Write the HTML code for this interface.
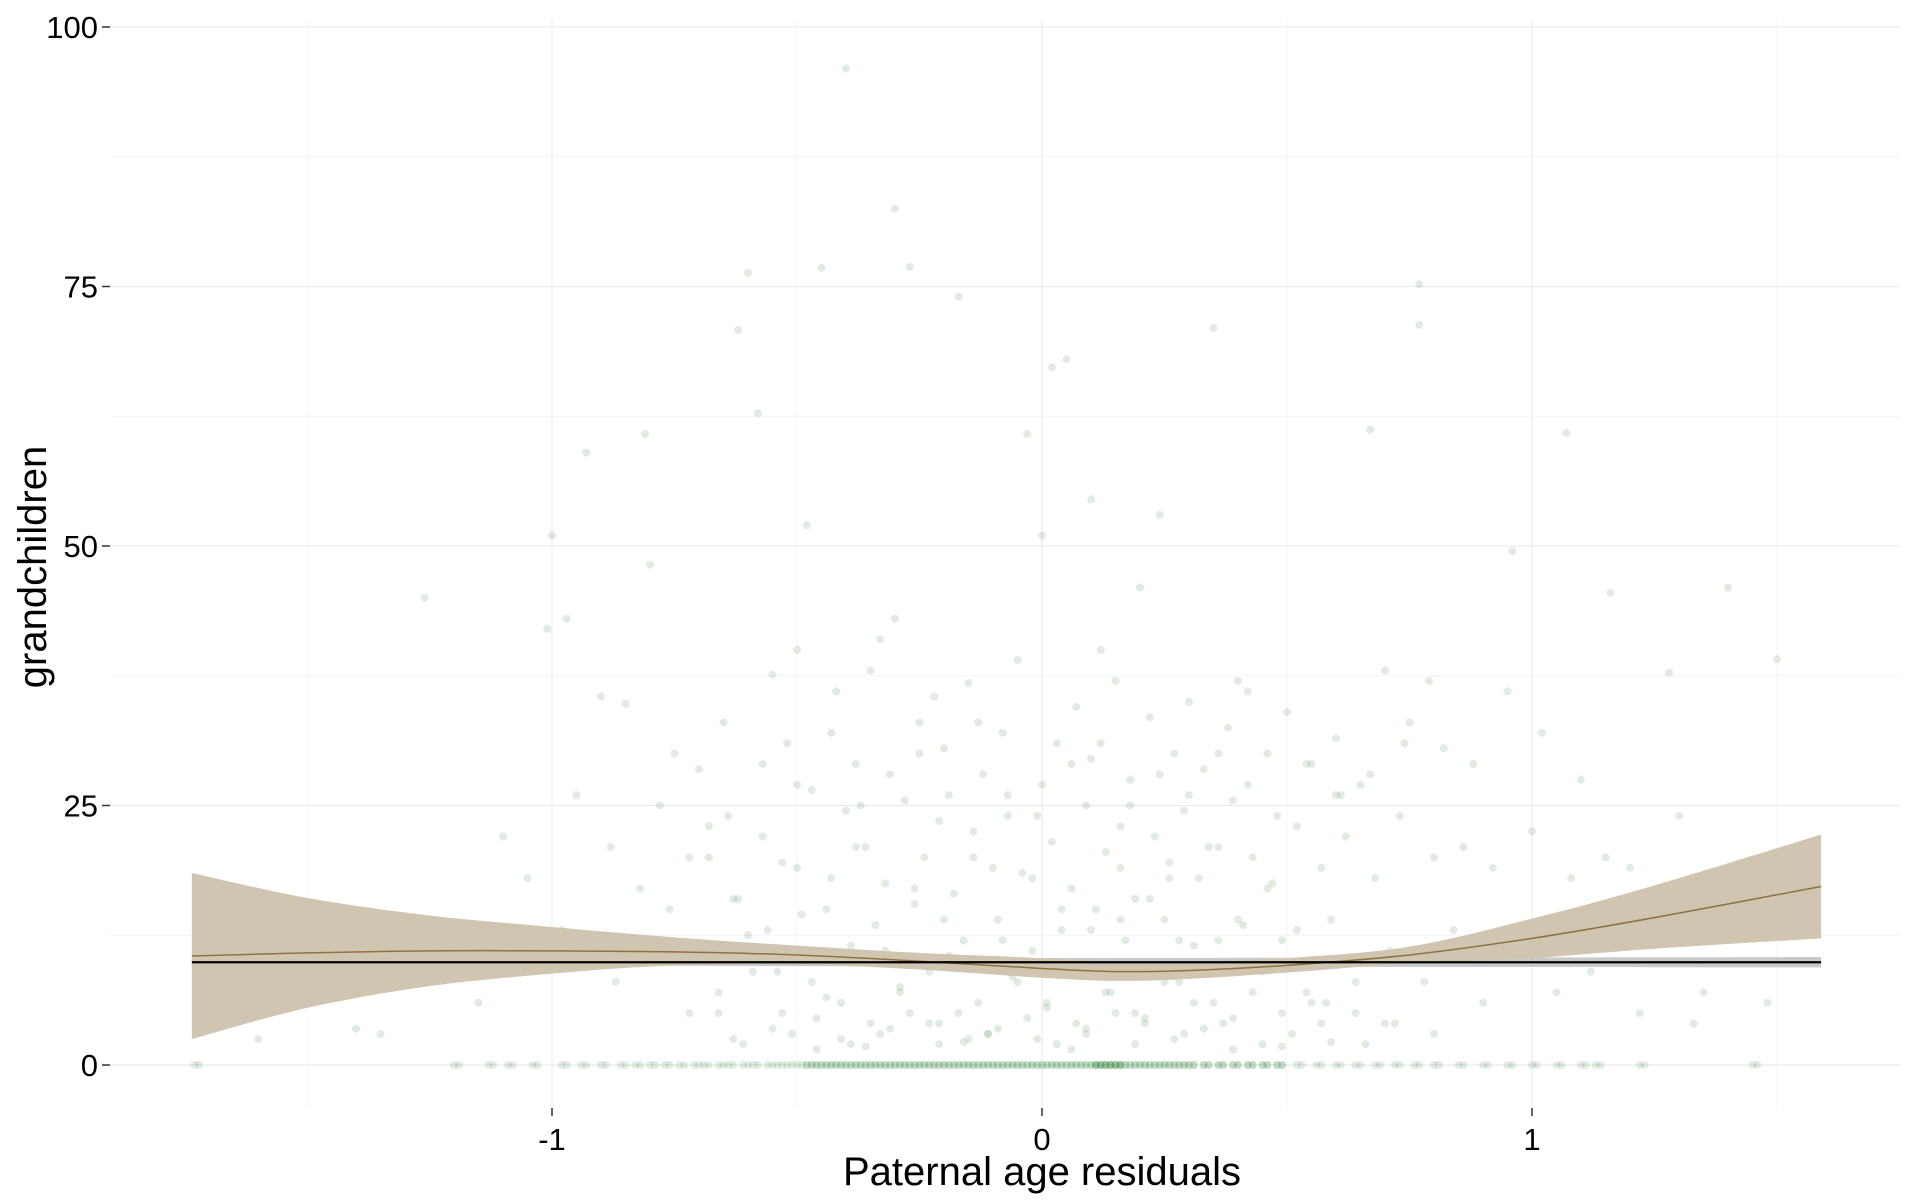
<!DOCTYPE html>
<html><head><meta charset="utf-8">
<style>
html,body{margin:0;padding:0;background:#fff;}
svg{display:block;font-family:"Liberation Sans",sans-serif;}
</style></head>
<body>
<svg id="chart" width="1920" height="1200" viewBox="0 0 1920 1200" xmlns="http://www.w3.org/2000/svg">
<g id="grid"></g>
<g id="points"></g>
<g id="band"></g>
<g id="axes"></g>
<text x="1042" y="1185" font-size="40" text-anchor="middle">Paternal age residuals</text>
<text transform="translate(46,567) rotate(-90)" font-size="40" text-anchor="middle">grandchildren</text>
</svg>
<script>
const xTicks=[-1,0,1];
const xTickLabels=["-1","0","1"];
const yTicks=[0,25,50,75,100];
const yTickLabels=["0","25","50","75","100"];
// scattered points (x residual, grandchildren)
const ptX=[-0.4,-0.3,-0.6,-0.45,-0.27,-0.17,0.77,-0.62,0.77,0.35,0.05,0.02,-0.58,0.67,1.07,-0.81,-0.93,-0.03,-1.0,-0.48,0.0,0.1,0.24,-0.8,-1.01,-1.26,-0.97,0.2,0.96,1.4,1.16,1.5,1.28,0.79,-0.5,-0.3,0.12,0.4,
-0.9,-0.85,-0.75,-0.7,-0.65,-0.55,-0.52,-0.42,-0.38,-0.35,-0.33,-0.25,-0.22,-0.2,-0.15,-0.12,-0.08,-0.05,0.03,0.07,0.1,0.15,0.18,0.22,0.27,0.3,0.33,0.38,0.42,0.46,0.5,0.55,0.6,0.65,0.7,0.75,0.82,0.88,0.95,1.02,1.1,1.2,1.3,
-1.1,-1.05,-0.95,-0.88,-0.82,-0.78,-0.72,-0.68,-0.63,-0.57,-0.53,-0.47,-0.43,-0.4,-0.36,-0.32,-0.28,-0.24,-0.21,-0.18,-0.14,-0.1,-0.07,-0.04,-0.01,0.02,0.06,0.09,0.13,0.16,0.19,0.23,0.26,0.29,0.32,0.36,0.39,0.43,0.47,0.52,0.57,0.62,0.68,0.73,0.8,0.86,0.92,1.0,1.08,1.15,1.25,1.35,1.45,
-1.2,-1.15,-0.98,-0.87,-0.76,-0.66,-0.6,-0.54,-0.49,-0.44,-0.39,-0.34,-0.29,-0.26,-0.23,-0.19,-0.16,-0.13,-0.09,-0.06,-0.02,0.01,0.04,0.08,0.11,0.14,0.17,0.21,0.25,0.28,0.31,0.35,0.41,0.45,0.49,0.54,0.59,0.64,0.71,0.78,0.84,0.9,0.98,1.05,1.12,1.22,1.33,1.48,-1.35,-1.6,-1.4,
-0.61,-0.51,-0.41,-0.31,-0.21,-0.11,-0.01,0.09,0.19,0.29,0.39,0.49,0.59,-0.46,-0.36,-0.16,0.06,0.16,0.26,0.36,
-0.68,-0.62,-0.56,-0.5,-0.44,-0.38,-0.32,-0.26,-0.2,-0.14,-0.08,-0.02,0.04,0.1,0.16,0.22,0.28,0.34,0.4,0.46,0.52,0.58,0.64,0.7,
-0.66,-0.59,-0.53,-0.47,-0.41,-0.35,-0.29,-0.23,-0.17,-0.11,-0.05,0.01,0.07,0.13,0.19,0.25,0.31,0.37,0.43,0.49,0.55,0.61,0.67,0.74,
-0.64,-0.57,-0.5,-0.43,-0.37,-0.31,-0.25,-0.19,-0.13,-0.07,0.0,0.06,0.12,0.18,0.24,0.3,0.36,0.42,0.48,0.54,0.6,0.66,0.72,0.8,
-0.72,-0.63,-0.55,-0.46,-0.39,-0.33,-0.27,-0.21,-0.15,-0.09,-0.03,0.03,0.09,0.15,0.21,0.27,0.33,0.39,0.45,0.51,0.57,0.63,0.69,0.85],
ptY=[96,82.5,76.3,76.8,76.9,74,75.2,70.8,71.3,71,68,67.2,62.8,61.2,60.9,60.8,59,60.8,51,52,51,54.5,53,48.2,42,45,43,46,49.5,46,45.5,39.1,37.8,37,40,43,40,37,
35.5,34.8,30,28.5,33,37.6,31,36,29,38,41,33,35.5,30.5,36.8,28,32,39,31,34.5,29.5,37,27.5,33.5,30,35,28.5,32.5,36,30,34,29,31.5,27,38,33,30.5,29,36,32,27.5,
19,24,22,18,26,21,17,25,20,23,16,22,19.5,26.5,18,24.5,21,17.5,25.5,20,23.5,16.5,22.5,19,26,18.5,24,21.5,17,25,20.5,23,16,22,19.5,24.5,18,21,25.5,20,17.5,23,19,22,18,24,20,21,19,22.5,18,20,
12,7,14,11,6,13,8,15,5,12.5,9,14.5,6.5,11.5,13.5,7.5,15.5,4,10.5,12,6,14,8.5,11,5.5,13,9.5,15,7,12,4.5,14,8,11.5,6,13.5,9,12,7,14,5,11,8,13,6,12,7,9,5,4,6,
3,2.5,3.5,2,3,2.5,3.5,2,3,2.5,3.5,2,3,1.5,1.8,2.2,1.5,1.8,2.2,1.5,
14,18,12,20,16,13,19,15,21,11,17,14,20,12,18,15,13,19,16,12,21,14,17,13,
6,8,4,7,9,5,8,6,4,7,9,5,3,8,6,4,7,5,8,6,4,7,5,6,
26,28,31,24,29,27,32,25,28,30,26,33,24,27,29,31,25,28,26,30,27,24,29,26,
2,4,3,5,2.5,3.5,4.5,2,3,5,4,2.5,3.5,4.5,2,3,5,4,2.5,3.5,4.5,2,3,4];
// points on the zero line
const zeroX=[-1.73,-1.2,-1.13,-1.09,-1.04,-0.98,-0.94,-0.9,-0.86,-0.83,-0.8,-0.77,-0.74,-0.71,-0.69,-0.66,-0.64,-0.61,-0.59,-0.56,-0.54,-0.52,-0.5,-0.48,-0.46,-0.44,-0.42,-0.4,-0.38,-0.36,-0.34,-0.32,-0.3,-0.28,-0.26,-0.24,-0.22,-0.2,-0.18,-0.16,-0.14,-0.12,-0.1,-0.08,-0.06,-0.04,-0.02,0,0.02,0.04,0.06,0.08,0.1,0.11,0.12,0.13,0.14,0.15,0.16,0.18,0.2,0.22,0.24,0.26,0.28,0.3,0.33,0.36,0.39,0.42,0.45,0.48,0.52,0.56,0.6,0.64,0.68,0.72,0.76,0.8,0.85,0.9,0.95,1.0,1.05,1.1,1.13,1.22,1.45];
// smooth (loess) fit and confidence band
const smX=[-1.735,-1.5,-1.25,-1.0,-0.75,-0.5,-0.25,0.0,0.15,0.3,0.5,0.75,1.0,1.25,1.59];
const smMid=[10.5,10.8,11.0,11.0,10.9,10.6,10.0,9.3,9.0,9.1,9.6,10.6,12.2,14.2,17.2];
const smLo=[2.5,5.5,7.6,8.8,9.6,9.7,9.2,8.4,8.1,8.3,8.9,9.8,10.3,11.2,12.2];
const smHi=[18.5,16.1,14.4,13.3,12.3,11.5,10.8,10.3,9.9,9.9,10.3,11.4,14.1,17.3,22.2];
const lmX=[-1.735,1.59];
const lmMid=[9.9,9.9];
const lmLo=[9.6,9.4];
const lmHi=[10.2,10.4];

const X=v=>1042+490*v, Y=v=>1065-10.38*v;
const NS="http://www.w3.org/2000/svg";
function mk(p,t,a){const e=document.createElementNS(NS,t);for(const k in a)e.setAttribute(k,a[k]);p.appendChild(e);return e;}
const grid=document.getElementById('grid'),pts=document.getElementById('points'),band=document.getElementById('band'),axes=document.getElementById('axes');
[-1.5,-0.5,0.5,1.5].forEach(v=>{const l=mk(grid,'line',{x1:X(v),x2:X(v),y1:20,y2:1108,stroke:'#f4f4f4','stroke-width':1});

});
[12.5,37.5,62.5,87.5].forEach(v=>{const l=mk(grid,'line',{x1:110,x2:1900,y1:Y(v),y2:Y(v),stroke:'#f4f4f4','stroke-width':1});

});
xTicks.forEach(v=>{const l=mk(grid,'line',{x1:X(v),x2:X(v),y1:20,y2:1108,stroke:'#ebebeb','stroke-width':1.2});

});
yTicks.forEach(v=>{const l=mk(grid,'line',{x1:110,x2:1900,y1:Y(v),y2:Y(v),stroke:'#ebebeb','stroke-width':1.2});

});
const nPts=Math.min(ptX.length,ptY.length);
for(let i=0;i<nPts;i++){const c=mk(pts,'circle',{cx:X(ptX[i]),cy:Y(ptY[i]),r:4,fill:'rgba(70,140,80,0.17)'});

}
zeroX.forEach((x,i)=>{[0,1].forEach(j=>{const c=mk(pts,'circle',{cx:X(x+j*0.01),cy:Y(0),r:4,fill:'rgba(60,140,70,'+(Math.abs(x)<0.5?0.3:0.15)+')'});

});});
function curve(xs,ys){const P=xs.map((x,i)=>[X(x),Y(ys[i])]);let d='';
for(let i=0;i<P.length-1;i++){const p0=P[i-1]||P[i],p1=P[i],p2=P[i+1],p3=P[i+2]||P[i+1];
const c1=[p1[0]+(p2[0]-p0[0])/6,p1[1]+(p2[1]-p0[1])/6],c2=[p2[0]-(p3[0]-p1[0])/6,p2[1]-(p3[1]-p1[1])/6];
d+='C'+c1+' '+c2+' '+p2;}
return {start:P[0],d:d};}
function area(xs,lo,hi,fill,name){const u=curve(xs,hi);const l=curve(xs.slice().reverse(),lo.slice().reverse());
const p=mk(band,'path',{d:'M'+u.start+u.d+'L'+l.start+l.d+'Z',fill:fill});

}
function line(xs,ys,col,w,name){const c=curve(xs,ys);const p=mk(band,'path',{d:'M'+c.start+c.d,fill:'none',stroke:col,'stroke-width':w});

}
area(lmX,lmLo,lmHi,'rgba(150,150,150,0.5)','linear-band');
area(smX,smLo,smHi,'#cfc5b0','loess-band');
line(smX,smMid,'#8a7440',1.5,'loess-line');
line(lmX,lmMid,'#000',2.2,'linear-line');
xTicks.forEach((v,i)=>{const l=mk(axes,'line',{x1:X(v),x2:X(v),y1:1108,y2:1116,stroke:'#333','stroke-width':1.5});


const t=mk(axes,'text',{x:X(v),y:1150,'font-size':31,'text-anchor':'middle',fill:'#000'});t.textContent=xTickLabels[i];

});
yTicks.forEach((v,i)=>{const l=mk(axes,'line',{x1:102,x2:110,y1:Y(v),y2:Y(v),stroke:'#333','stroke-width':1.5});


const t=mk(axes,'text',{x:98,y:Y(v)+11,'font-size':31,'text-anchor':'end',fill:'#000'});t.textContent=yTickLabels[i];

});
</script>
</body></html>
